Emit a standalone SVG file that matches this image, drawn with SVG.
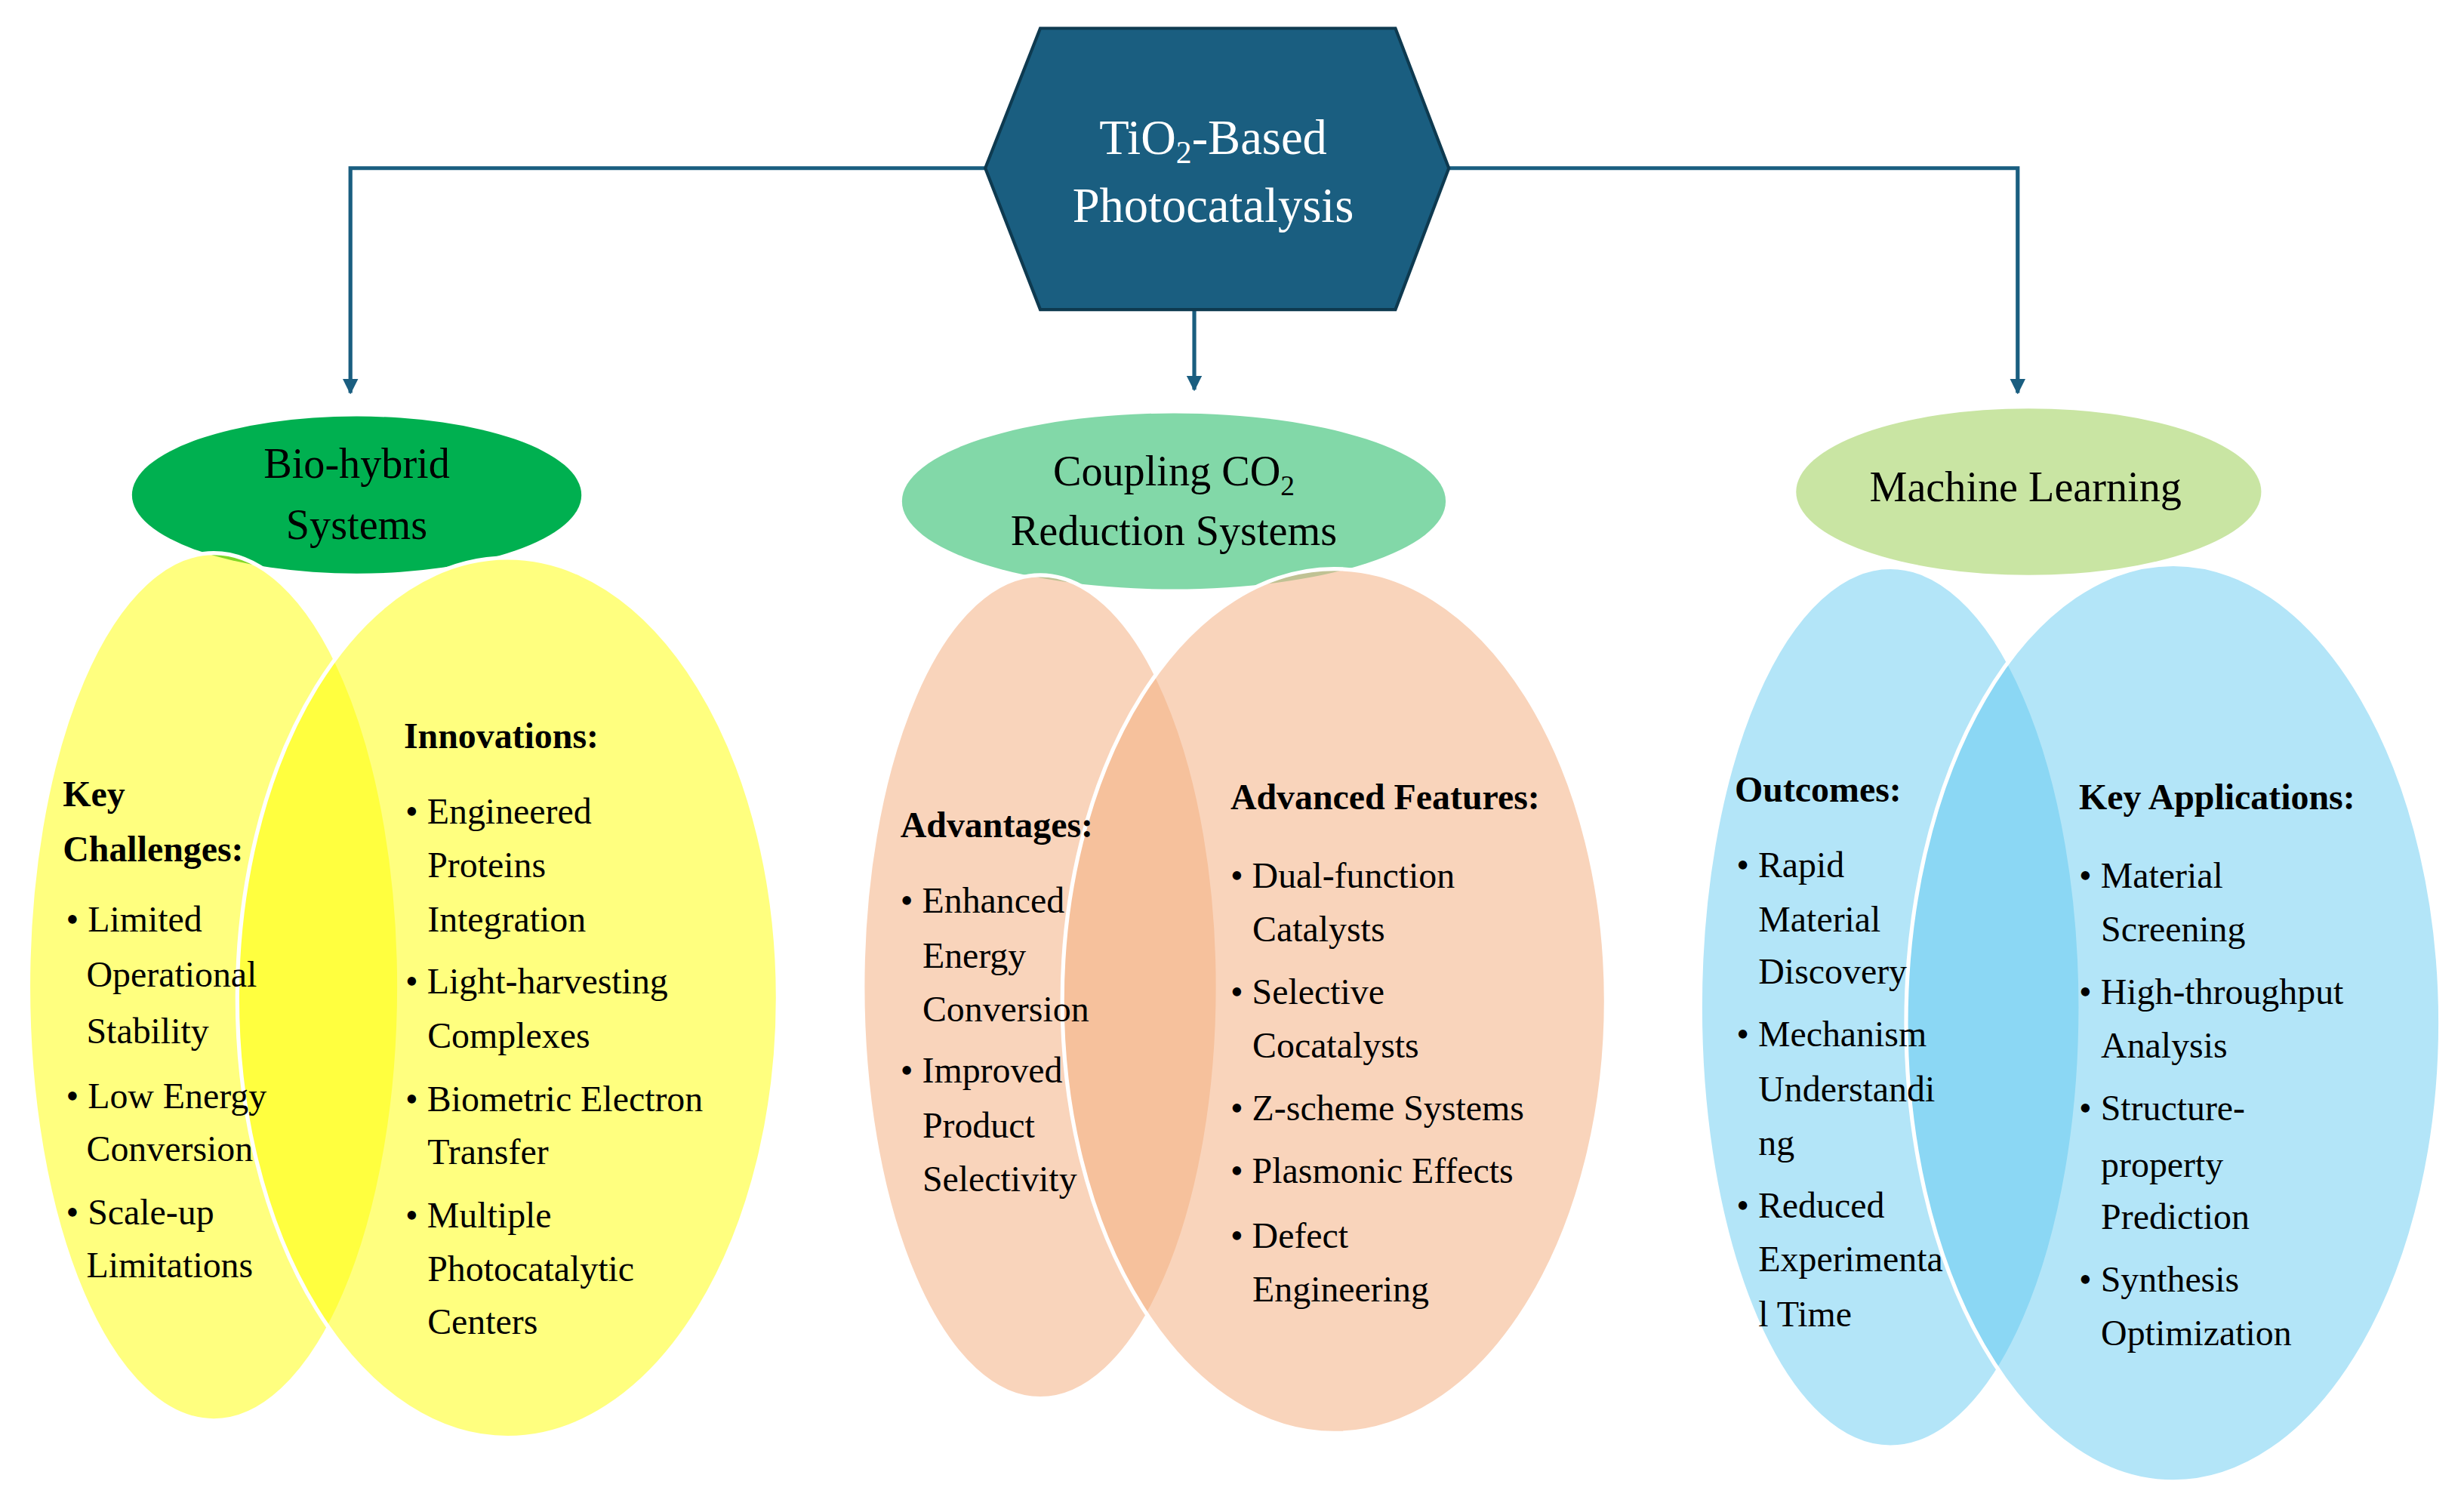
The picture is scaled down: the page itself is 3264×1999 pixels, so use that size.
<svg xmlns="http://www.w3.org/2000/svg" width="3264" height="1999" viewBox="0 0 3264 1999">
<defs>
<style>
text{font-family:"Liberation Serif","DejaVu Serif",serif;fill:#000;font-size:23px}
.h{font-weight:bold;font-size:23px}
.t{fill:#fff;font-size:31px;text-anchor:middle}
.c{font-size:27px;text-anchor:middle}
.conn{fill:none;stroke:#1a5e80;stroke-width:2.5}
.y{fill:#ffff00;fill-opacity:.5;stroke:#fff;stroke-width:2.5}
.p{fill:#f4b183;fill-opacity:.55;stroke:#fff;stroke-width:2.5}
.b{fill:#5ec8f0;fill-opacity:.47;stroke:#fff;stroke-width:2.5}
</style>
<marker id="ar" viewBox="0 0 10 10" refX="9" refY="5" markerWidth="4" markerHeight="4" orient="auto"><path d="M0,0L10,5L0,10z" fill="#1a5e80"/></marker>
</defs>
<rect width="3264" height="1999" fill="#fff"/>
<g transform="scale(2.0816)">
<g id="connectors">
<path class="conn" d="M627,107H223V250" marker-end="url(#ar)"/>
<path class="conn" d="M760,197V248" marker-end="url(#ar)"/>
<path class="conn" d="M922,107H1284V250" marker-end="url(#ar)"/>
</g>
<g id="root">
<polygon points="662,18 888,18 922,107 888,197 662,197 627,107" fill="#1a5e80" stroke="#0e3a50" stroke-width="2"/>
<text class="t" x="772" y="98">TiO<tspan font-size="20" dy="6">2</tspan><tspan dy="-6">-Based</tspan></text>
<text class="t" x="772" y="141">Photocatalysis</text>
</g>
<g id="biohybrid">
<ellipse cx="227" cy="315" rx="143" ry="50" fill="#00b050"/>
<text class="c" x="227" y="304">Bio-hybrid</text>
<text class="c" x="227" y="343">Systems</text>
</g>
<g id="coupling">
<ellipse cx="747" cy="319" rx="173" ry="56" fill="#82d8a8"/>
<text class="c" x="747" y="309">Coupling CO<tspan font-size="18" dy="6">2</tspan></text>
<text class="c" x="747" y="347">Reduction Systems</text>
</g>
<g id="ml">
<ellipse cx="1291" cy="313" rx="148" ry="53" fill="#c9e5a3"/>
<text class="c" x="1289" y="319">Machine Learning</text>
</g>
<g id="bio-venn">
<ellipse class="y" cx="136" cy="628" rx="118" ry="276"/>
<ellipse class="y" cx="323" cy="635" rx="172" ry="280"/>
<text class="h" x="40" y="513">Key</text>
<text class="h" x="40" y="548">Challenges:</text>
<text x="42" y="593">• Limited</text><text x="55" y="628">Operational</text><text x="55" y="664">Stability</text>
<text x="42" y="705">• Low Energy</text><text x="55" y="739">Conversion</text>
<text x="42" y="779">• Scale-up</text><text x="55" y="813">Limitations</text>
<text class="h" x="257" y="476">Innovations:</text>
<text x="258" y="524">• Engineered</text><text x="272" y="558">Proteins</text><text x="272" y="593">Integration</text>
<text x="258" y="632">• Light-harvesting</text><text x="272" y="667">Complexes</text>
<text x="258" y="707">• Biometric Electron</text><text x="272" y="741">Transfer</text>
<text x="258" y="781">• Multiple</text><text x="272" y="815">Photocatalytic</text><text x="272" y="849">Centers</text>
</g>
<g id="co2-venn">
<ellipse class="p" cx="662" cy="628" rx="113" ry="262"/>
<ellipse class="p" cx="849" cy="637" rx="173" ry="275"/>
<text class="h" x="573" y="533">Advantages:</text>
<text x="573" y="581">• Enhanced</text><text x="587" y="616">Energy</text><text x="587" y="650">Conversion</text>
<text x="573" y="689">• Improved</text><text x="587" y="724">Product</text><text x="587" y="758">Selectivity</text>
<text class="h" x="783" y="515">Advanced Features:</text>
<text x="783" y="565">• Dual-function</text><text x="797" y="599">Catalysts</text>
<text x="783" y="639">• Selective</text><text x="797" y="673">Cocatalysts</text>
<text x="783" y="713">• Z-scheme Systems</text>
<text x="783" y="753">• Plasmonic Effects</text>
<text x="783" y="794">• Defect</text><text x="797" y="828">Engineering</text>
</g>
<g id="ml-venn">
<ellipse class="b" cx="1203" cy="641" rx="121" ry="280"/>
<ellipse class="b" cx="1383" cy="651" rx="170" ry="292"/>
<text class="h" x="1104" y="510">Outcomes:</text>
<text x="1105" y="558">• Rapid</text><text x="1119" y="593">Material</text><text x="1119" y="626">Discovery</text>
<text x="1105" y="666">• Mechanism</text><text x="1119" y="701">Understandi</text><text x="1119" y="735">ng</text>
<text x="1105" y="775">• Reduced</text><text x="1119" y="809">Experimenta</text><text x="1119" y="844">l Time</text>
<text class="h" x="1323" y="515">Key Applications:</text>
<text x="1323" y="565">• Material</text><text x="1337" y="599">Screening</text>
<text x="1323" y="639">• High-throughput</text><text x="1337" y="673">Analysis</text>
<text x="1323" y="713">• Structure-</text><text x="1337" y="749">property</text><text x="1337" y="782">Prediction</text>
<text x="1323" y="822">• Synthesis</text><text x="1337" y="856">Optimization</text>
</g>
</g>
</svg>
